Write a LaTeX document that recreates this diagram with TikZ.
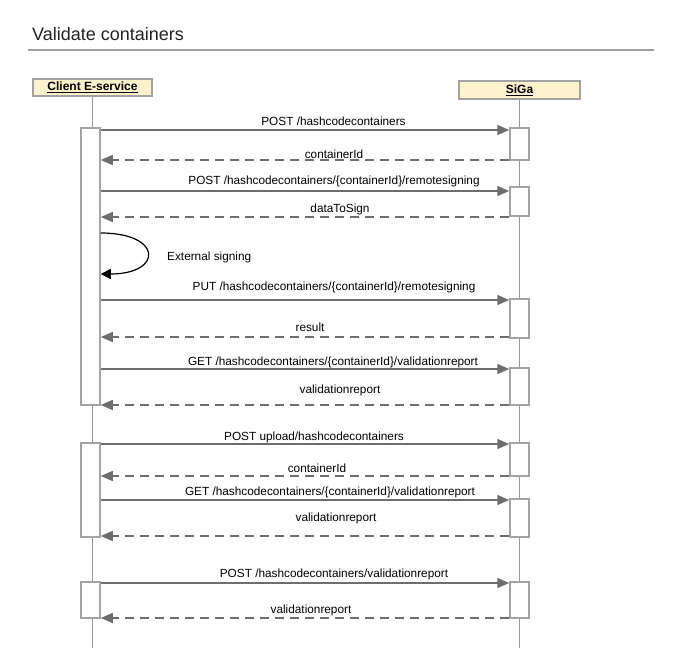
\documentclass[tikz,border=0pt]{standalone}
\usepackage{fontspec}
\setmainfont{Liberation Sans}
\usetikzlibrary{arrows.meta}
\definecolor{lifegray}{HTML}{999999}
\definecolor{boxgray}{HTML}{A3A3A3}
\definecolor{msggray}{HTML}{6E6E6E}
\definecolor{headfill}{HTML}{FFF2CC}
\definecolor{titlegray}{HTML}{A0A0A0}
\definecolor{titletext}{HTML}{222222}
\begin{document}
\begin{tikzpicture}[x=1pt,y=-1pt,
  head/.style={draw=boxgray, line width=1.5pt, fill=headfill, inner sep=0pt,
    font=\fontsize{12}{14}\selectfont\bfseries},
  act/.style={draw=boxgray, line width=1.5pt, fill=white, minimum width=19pt, inner sep=0pt},
  life/.style={draw=lifegray, line width=1.5pt},
  msg/.style={draw=msggray, line width=1.6pt, -{Triangle[length=12pt,width=10pt]}},
  ret/.style={msg, dash pattern=on 9pt off 6pt},
  lbl/.style={font=\fontsize{11.8}{14}\selectfont, text=black, inner sep=0pt},
  selfmsg/.style={draw=black, line width=1.2pt, -{Triangle[length=10pt,width=10pt]}}]
\useasboundingbox (0,0) rectangle (688,669);

% title
\node[anchor=base west, inner sep=0pt, font=\fontsize{18}{21}\selectfont, text=titletext] (title) at (32,41) {Validate containers};
\coordinate (tl) at (28,50.5);
\coordinate (tr) at (654,50.5);
\draw[draw=titlegray, line width=2pt] (tl) -- (tr);

% participants
\node[head, minimum width=119pt, minimum height=17pt] (client) at (92.5,87.5) {\underline{Client E-service}};
\node[head, minimum width=121pt, minimum height=18pt] (siga) at (519.5,90) {\underline{SiGa}};
\coordinate (clientend) at (92.5,648);
\coordinate (sigaend) at (519.5,648);
\draw[life] (client.south) -- (clientend);
\draw[life] (siga.south) -- (sigaend);

% activations client
\node[act, minimum height=277pt] (ca1) at (90.5,266.5) {};
\node[act, minimum height=94pt] (ca2) at (90.5,490) {};
\node[act, minimum height=36pt] (ca3) at (90.5,600) {};

% activations SiGa
\node[act, minimum height=32pt] (sa1) at (519.5,144) {};
\node[act, minimum height=29pt] (sa2) at (519.5,201.5) {};
\node[act, minimum height=39pt] (sa3) at (519.5,318.5) {};
\node[act, minimum height=37pt] (sa4) at (519.5,386.5) {};
\node[act, minimum height=33pt] (sa5) at (519.5,459.5) {};
\node[act, minimum height=38pt] (sa6) at (519.5,518) {};
\node[act, minimum height=36pt] (sa7) at (519.5,600) {};

% messages
\draw[msg] (ca1.east |- 0,130) -- (sa1.west |- 0,130);
\node[lbl] (l1) at (333.5,121) {POST /hashcodecontainers};
\draw[ret] (sa1.west |- 0,160) -- (ca1.east |- 0,160);
\node[lbl] (l2) at (334,154) {containerId};
\draw[msg] (ca1.east |- 0,191) -- (sa2.west |- 0,191);
\node[lbl] (l3) at (334,181) {POST /hashcodecontainers/\{containerId\}/remotesigning};
\draw[ret] (sa2.west |- 0,217) -- (ca1.east |- 0,217);
\node[lbl] (l4) at (340,209) {dataToSign};

% self message
\draw[selfmsg] (ca1.east |- 0,233) .. controls (163,233) and (163,274) .. (ca1.east |- 0,274);
\node[lbl, anchor=west] (l5) at (167,257) {External signing};

\draw[msg] (ca1.east |- 0,300) -- (sa3.west |- 0,300);
\node[lbl] (l6) at (334,287) {PUT /hashcodecontainers/\{containerId\}/remotesigning};
\draw[ret] (sa3.west |- 0,337) -- (ca1.east |- 0,337);
\node[lbl] (l7) at (310,327) {result};
\draw[msg] (ca1.east |- 0,369) -- (sa4.west |- 0,369);
\node[lbl] (l8) at (333,362) {GET /hashcodecontainers/\{containerId\}/validationreport};
\draw[ret] (sa4.west |- 0,405) -- (ca1.east |- 0,405);
\node[lbl] (l9) at (340,390) {validationreport};

\draw[msg] (ca2.east |- 0,444) -- (sa5.west |- 0,444);
\node[lbl] (l10) at (314,437) {POST upload/hashcodecontainers};
\draw[ret] (sa5.west |- 0,476) -- (ca2.east |- 0,476);
\node[lbl] (l11) at (317,468) {containerId};
\draw[msg] (ca2.east |- 0,500) -- (sa6.west |- 0,500);
\node[lbl] (l12) at (330,492) {GET /hashcodecontainers/\{containerId\}/validationreport};
\draw[ret] (sa6.west |- 0,536) -- (ca2.east |- 0,536);
\node[lbl] (l13) at (336,518) {validationreport};

\draw[msg] (ca3.east |- 0,583) -- (sa7.west |- 0,583);
\node[lbl] (l14) at (334,574) {POST /hashcodecontainers/validationreport};
\draw[ret] (sa7.west |- 0,618) -- (ca3.east |- 0,618);
\node[lbl] (l15) at (311,610) {validationreport};
\end{tikzpicture}
\end{document}
